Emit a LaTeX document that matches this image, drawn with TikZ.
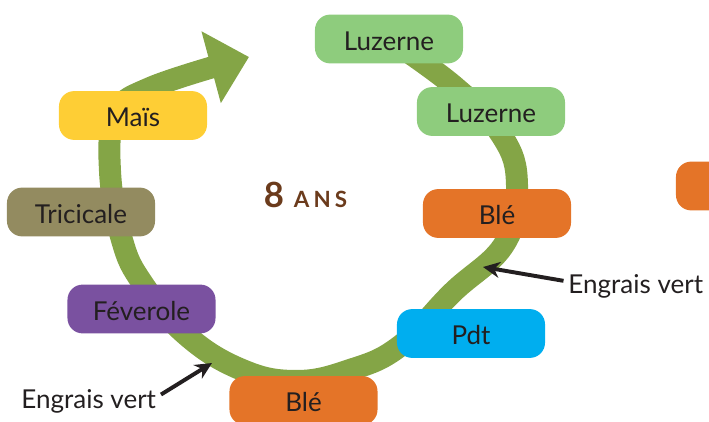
\documentclass[tikz,border=0pt]{standalone}
\usepackage{fontspec}
\setmainfont{Lato}
\usepackage{tikz}
\usetikzlibrary{arrows.meta}
\definecolor{ringgreen}{HTML}{84A546}
\definecolor{luzerne}{HTML}{8ECC7D}
\definecolor{orange}{HTML}{E47428}
\definecolor{blue}{HTML}{00AEEF}
\definecolor{purple}{HTML}{7A51A0}
\definecolor{olive}{HTML}{938B60}
\definecolor{yellow}{HTML}{FECE35}
\definecolor{brown}{HTML}{6B3B1C}
\definecolor{ink}{HTML}{231F20}
\tikzstyle{crop} = [rounded corners=0.38cm, minimum width=3.7cm, minimum height=1.22cm, inner sep=0pt, text=ink, text height=16pt, text depth=0pt, font=\fontsize{18.5}{20}\selectfont]
\tikzstyle{ring} = [line width=0.55cm, ringgreen, -{Triangle[length=0.98cm,width=1.8cm]}]
\tikzstyle{arrow} = [line width=2.8pt, ink, -{Stealth[length=0.42cm,width=0.4cm]}]
\tikzstyle{note} = [text=ink, font=\fontsize{18.5}{20}\selectfont]

\begin{document}
\begin{tikzpicture}[x=0.025cm, y=0.025cm]
    \useasboundingbox (0,0) rectangle (709,421);
    \clip (0,0) rectangle (709,421);
    % the rotation
    \draw[ring] plot[smooth, tension=0.7] coordinates {(389,382) (455,334) (502,285) (517,236) (505,178) (452,128) (400,75) (350,51) (295,40) (240,52) (185,87) (143,137) (122,181) (110,250) (116,306) (150,333) (249,364)};
    \foreach \n/\x/\y/\c/\t in {luz1/389/382/luzerne/Luzerne, luz2/491/309.5/luzerne/Luzerne, ble1/497/207.5/orange/Blé, pdt/471/87.5/blue/Pdt, ble2/303.5/20.5/orange/Blé, fev/141.5/112/purple/Féverole, tri/81/209/olive/Tricicale, mais/133/305.5/yellow/Maïs, cut/750/235/orange/{}}{
        \node[crop, fill=\c] (\n) at (\x,\y) {\t};
    }
    \node[anchor=base, text=brown, font=\bfseries] (years) at (305.5,213) {{\fontsize{24.7}{26}\selectfont 8}\hspace{7pt}{\fontsize{15.9}{17}\selectfont\addfontfeature{LetterSpace=18}ANS}};
    % green manure
    \coordinate (t1) at (212,58);
    \coordinate (t2) at (483,154);
    \node[note, anchor=base east] (ev1) at (161,13) {Engrais vert};
    \node[note, anchor=base west] (ev2) at (563.5,128) {Engrais vert};
    \draw[arrow] (ev1.5) -- (t1);
    \draw[arrow] (ev2.176) -- (t2);
\end{tikzpicture}
\end{document}
